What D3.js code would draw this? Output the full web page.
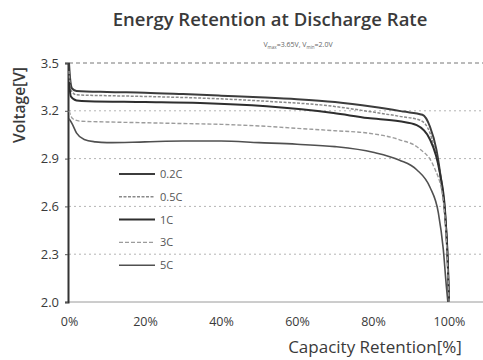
<html>
<head>
<script src="https://d3js.org/d3.v7.min.js"></script>
<style>
  body { margin: 0; background: #fff; }
  text { font-family: "Open Sans", "Noto Sans", sans-serif; fill: #3a3a3a; }
</style>
</head>
<body>
<div id="chart"></div>
<script>
// capacity retention (%) and voltage (V)
const cap02  = [0, 0.3, 0.8, 2, 10, 20, 30, 40, 50, 60, 70, 80, 88, 93, 95, 96.7, 98, 99, 99.7, 100];
const volt02 = [3.5, 3.4, 3.34, 3.325, 3.318, 3.314, 3.305, 3.295, 3.285, 3.273, 3.255, 3.225, 3.195, 3.175, 3.10, 2.955, 2.75, 2.54, 2.25, 2.0];

const cap05  = [0, 0.5, 2, 10, 20, 34.5, 52, 69.6, 78.6, 87, 92.5, 95, 97, 98.5, 99.5, 100];
const volt05 = [3.45, 3.33, 3.30, 3.295, 3.29, 3.28, 3.26, 3.228, 3.197, 3.165, 3.14, 3.06, 2.88, 2.65, 2.3, 2.0];

const cap1   = [0, 0.5, 2, 5, 20, 34.5, 52, 69.6, 78.6, 87, 91.5, 95, 97.6, 99, 99.7, 100];
const volt1  = [3.38, 3.29, 3.265, 3.26, 3.255, 3.249, 3.228, 3.186, 3.155, 3.134, 3.11, 3.02, 2.81, 2.56, 2.23, 2.0];

const cap3   = [0, 1, 3, 10, 20, 30, 40, 50, 60, 70, 78.6, 87, 92, 96, 98.5, 99.5, 100];
const volt3  = [3.2, 3.15, 3.135, 3.13, 3.125, 3.12, 3.115, 3.105, 3.09, 3.075, 3.06, 3.018, 2.966, 2.85, 2.64, 2.3, 2.0];

const cap5   = [0, 0.8, 2, 4, 7, 10, 20, 30, 40, 50, 60, 70, 80, 87, 91.5, 95, 97.2, 98.5, 99.3, 99.7];
const volt5  = [3.15, 3.12, 3.06, 3.02, 3.005, 3.0, 3.005, 3.01, 3.01, 3.0, 2.99, 2.975, 2.94, 2.89, 2.83, 2.72, 2.56, 2.33, 2.1, 2.0];

const rateNames = ["0.2C", "0.5C", "1C", "3C", "5C"];
const voltTicks = [2.0, 2.3, 2.6, 2.9, 3.2, 3.5];
const capTicks = [0, 20, 40, 60, 80, 100];

const series = [
  { name: rateNames[0], cap: cap02, volt: volt02, color: "#3c3c3c", width: 2,   dash: null },
  { name: rateNames[1], cap: cap05, volt: volt05, color: "#8a8a8a", width: 1.5, dash: "3,1.5" },
  { name: rateNames[2], cap: cap1,  volt: volt1,  color: "#2e2e2e", width: 2,   dash: null },
  { name: rateNames[3], cap: cap3,  volt: volt3,  color: "#9c9c9c", width: 1.4, dash: "4,2" },
  { name: rateNames[4], cap: cap5,  volt: volt5,  color: "#505050", width: 1.6, dash: null }
];

const width = 483, height = 360;
const svg = d3.select('#chart').append('svg')
  .attr('width', width)
  .attr('height', height);

const x = d3.scaleLinear().domain([0, 100]).range([69, 449]);
const y = d3.scaleLinear().domain([2.0, 3.5]).range([302, 63]);

// title
svg.append('text')
  .attr('x', 270).attr('y', 26)
  .attr('text-anchor', 'middle')
  .style('font-size', '18.5px')
  .style('font-weight', 600)
  .text('Energy Retention at Discharge Rate');

const sub = svg.append('text')
  .attr('x', 298).attr('y', 47)
  .attr('text-anchor', 'middle')
  .style('font-size', '7px')
  .style('fill', '#666');
sub.append('tspan').text('V');
sub.append('tspan').attr('dy', 2).style('font-size', '4.5px').text('max');
sub.append('tspan').attr('dy', -2).text('=3.65V, V');
sub.append('tspan').attr('dy', 2).style('font-size', '4.5px').text('min');
sub.append('tspan').attr('dy', -2).text('=2.0V');

// horizontal grid lines
svg.selectAll('.grid')
  .data(voltTicks.filter(v => v > 2.0))
  .enter().append('line')
    .attr('x1', 69).attr('x2', width)
    .attr('y1', d => y(d)).attr('y2', d => y(d))
    .attr('stroke', d => d === 3.5 ? '#777' : '#b4b4b4')
    .attr('stroke-width', 1)
    .attr('stroke-dasharray', d => d === 3.5 ? '4,3' : '2,3');

// bottom base line
svg.append('line')
  .attr('x1', 69).attr('x2', width)
  .attr('y1', y(2.0)).attr('y2', y(2.0))
  .attr('stroke', '#9a9a9a').attr('stroke-width', 1);

// y axis
const yAxis = svg.append('g')
  .attr('transform', 'translate(68,0)')
  .call(d3.axisLeft(y).tickValues(voltTicks).tickFormat(d3.format('.1f')).tickSize(3).tickPadding(6));
yAxis.select('.domain').attr('stroke', '#333').attr('stroke-width', 2);
yAxis.selectAll('.tick line').attr('stroke', '#555');
yAxis.selectAll('.tick text')
  .style('font-size', '13px')
  .style('font-family', '"Open Sans", sans-serif')
  .attr('fill', '#444');

// x axis labels
const xAxis = svg.append('g')
  .attr('transform', 'translate(0,' + y(2.0) + ')')
  .call(d3.axisBottom(x).tickValues(capTicks).tickFormat(d => d + '%').tickSize(0).tickPadding(15));
xAxis.select('.domain').remove();
xAxis.selectAll('.tick text')
  .style('font-size', '12.5px')
  .style('font-family', '"Open Sans", sans-serif')
  .attr('fill', '#444');

// axis titles
svg.append('text')
  .attr('x', 375).attr('y', 353)
  .attr('text-anchor', 'middle')
  .style('font-size', '17px')
  .text('Capacity Retention[%]');

svg.append('text')
  .attr('transform', 'translate(25,105) rotate(-90)')
  .attr('text-anchor', 'middle')
  .style('font-size', '15.5px')
  .style('font-weight', 600)
  .text('Voltage[V]');

// curves
const line = d3.line()
  .x(d => x(d[0]))
  .y(d => y(d[1]))
  .curve(d3.curveMonotoneX);

svg.selectAll('.curve')
  .data(series)
  .enter().append('path')
    .attr('class', 'curve')
    .attr('d', s => line(s.cap.map((c, i) => [c, s.volt[i]])))
    .attr('fill', 'none')
    .attr('stroke', s => s.color)
    .attr('stroke-width', s => s.width)
    .attr('stroke-dasharray', s => s.dash);

// legend
const legend = svg.selectAll('.legend')
  .data(series)
  .enter().append('g')
    .attr('transform', (s, i) => 'translate(119,' + (174 + i * 22.8) + ')');
legend.append('line')
  .attr('x1', 0).attr('x2', 36)
  .attr('stroke', s => s.color)
  .attr('stroke-width', s => s.width)
  .attr('stroke-dasharray', s => s.dash);
legend.append('text')
  .attr('x', 41).attr('y', 4)
  .style('font-size', '11px')
  .style('fill', '#555')
  .text(s => s.name);
</script>
</body>
</html>
